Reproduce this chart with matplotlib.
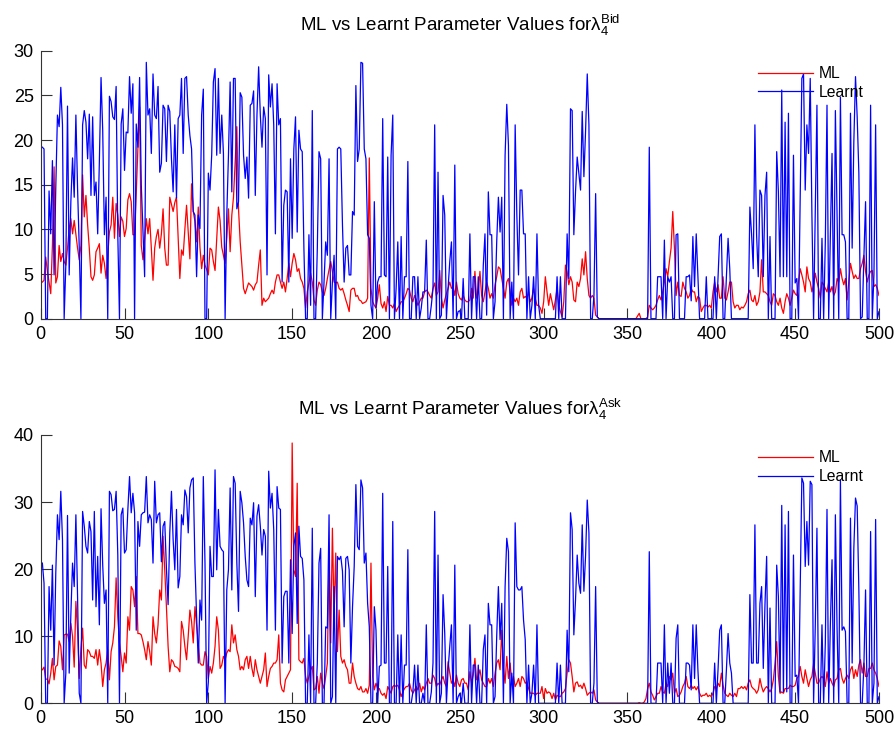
import numpy as np
import matplotlib.pyplot as plt

plt.rcParams['font.family'] = ['Liberation Sans', 'DejaVu Sans']
plt.rcParams['mathtext.fontset'] = 'custom'
plt.rcParams['mathtext.rm'] = 'Liberation Sans'
plt.rcParams['mathtext.it'] = 'Liberation Sans:italic'
plt.rcParams['mathtext.bf'] = 'Liberation Sans:bold'

# values, samples 1..500
bid_ml = [
    4.1, 4.3, 6.9, 5.3, 4.1, 2.8, 8.2, 17, 4, 4.7,
    8.2, 6.4, 7.3, 6.4, 6, 7.9, 10.1, 11.2, 9.5, 11,
    9.4, 7.9, 6.6, 8.2, 16.1, 11.4, 13.8, 10.5, 7.9, 4.7,
    4.3, 4.9, 7.5, 7.9, 8.4, 5.1, 7.1, 6.2, 4.5, 7.1,
    9.7, 10.5, 13.6, 9, 12.9, 11.6, 9.2, 11.4, 10.9, 9.2,
    10.1, 13.3, 14, 13.1, 9.4, 9.4, 14, 19.2, 23.7, 8.2,
    6.6, 9, 11.2, 9.5, 11.2, 7.9, 4.3, 7.9, 9.2, 10,
    7.9, 9.5, 12.3, 7.9, 6, 6, 13.6, 12.8, 12, 13,
    13.6, 9, 4.5, 7.7, 7.1, 10, 12.7, 9.7, 6.7, 15.1,
    12, 10.9, 8.6, 12.5, 8, 5.6, 7.1, 6, 5.5, 4.9,
    7.9, 7.7, 6.4, 5.4, 9, 12.5, 11, 8, 7.1, 6.2,
    9, 12.3, 7.5, 11.6, 13.6, 17.6, 21.5, 12.3, 8.6, 6,
    3.4, 2.8, 3.4, 4, 3.8, 3.6, 3.2, 3.8, 4.1, 6,
    7.7, 1.5, 2.3, 1.9, 2.1, 2.3, 2.8, 3.2, 2.8, 4.1,
    4.9, 4.9, 4.1, 3.4, 4.1, 3, 4.5, 6.2, 4.7, 6.2,
    7.3, 6.6, 5.3, 5.6, 4.5, 4.1, 3.4, 1.2, 3, 4,
    5.1, 4.1, 2.1, 1.5, 3.2, 4.1, 3.8, 3, 2.6, 3.4,
    4.5, 5.5, 6.4, 5.3, 4.1, 4, 4.1, 3.4, 3.2, 3.4,
    2.8, 2.1, 1.5, 0.8, 3.2, 3.4, 3.4, 2.5, 2.6, 2.1,
    2, 1.7, 1.8, 1.9, 2.3, 18, 3.4, 1.9, 1.5, 1.2,
    2.3, 3.8, 1.7, 1.2, 1.9, 0.8, 2.5, 1.5, 1.5, 1.2,
    1.7, 0.8, 1.2, 1.5, 1.9, 1.9, 2.3, 2.8, 3.4, 3.2,
    2.3, 1.9, 2.6, 2.1, 1.5, 1.9, 2.3, 2.3, 3, 3.2,
    3, 2.6, 2.3, 3.4, 4, 2.6, 3, 5.4, 2.3, 1.2,
    2.1, 2.8, 3.4, 4.1, 3.4, 3.6, 2.6, 4.1, 2.8, 2.3,
    2.1, 2.6, 2.1, 1.9, 1.9, 2.1, 3.4, 2.3, 5.3, 2.3,
    3, 5.3, 2.6, 1.9, 3, 4.1, 3.4, 2.3, 2.8, 2.3,
    3.8, 4.7, 5.8, 5.6, 4.5, 3.4, 2.3, 4.1, 4.5, 3,
    1.5, 2.3, 1.9, 2.3, 1.5, 3, 3.4, 2.3, 2.5, 2.3,
    3, 1.9, 2.3, 3.4, 2.3, 1.5, 1.5, 1.2, 0.6, 1.9,
    4.7, 3, 1.5, 2.8, 1.9, 1, 2.1, 3.4, 1.5, 0.8,
    0.2, 1.9, 6, 5.3, 3.8, 4.7, 4.1, 2.1, 1.9, 4.1,
    3.6, 4.5, 6.7, 4.9, 7.5, 4.5, 2.6, 2.3, 2.6, 2.3,
    0.4, 0.2, 0, 0, 0, 0, 0, 0, 0, 0,
    0, 0, 0, 0, 0, 0, 0, 0, 0, 0,
    0, 0, 0, 0, 0, 0.3, 0.6, 0, 0, 0,
    0, 0.2, 1.5, 1.2, 1, 1.2, 1.5, 2.1, 2.6, 2.1,
    3, 4.1, 5.6, 4.7, 6.4, 7.9, 12, 7.9, 2.6, 4.1,
    2.6, 2.5, 4.1, 3.4, 3, 2.3, 2.6, 3.4, 3, 3,
    1.9, 2.5, 2.3, 0.8, 1.2, 1.5, 1.5, 1.3, 1.5, 1.2,
    3, 4.1, 3, 3.8, 2.3, 2.3, 4.7, 2.3, 2.1, 3,
    4.1, 4.1, 1.9, 1.2, 1.5, 1.5, 1, 1.3, 1.2, 1.5,
    1.9, 2.8, 3.2, 2.1, 1.9, 2.6, 1.5, 1.9, 3, 6.6,
    3, 3, 2.8, 2.6, 1.9, 1.5, 2.8, 2.6, 1.9, 1.5,
    2.3, 1.2, 0.6, 1.9, 2.8, 2.3, 1.5, 2.3, 3.2, 2.8,
    2.6, 4.1, 5.6, 4.9, 4.1, 3, 5.8, 4.5, 4.1, 3,
    3.8, 5.1, 4.1, 3.4, 2.3, 4.1, 3.8, 3.4, 3, 4.1,
    3, 3.6, 2.6, 3, 4.5, 4.1, 5.6, 4.5, 3.8, 4.5,
    2.1, 4.1, 6.2, 5.3, 4.5, 4.9, 4.5, 4.5, 5.6, 6.2,
    7.1, 5.3, 4.1, 4.9, 5.3, 5.4, 3.6, 3.8, 3.4, 2.6,
]

bid_learnt = [
    19.2, 19, 0, 0, 14.3, 9.5, 17.7, 4.9, 14.6, 22.8,
    21.5, 25.9, 21.7, 0, 6, 23.8, 4.9, 13.1, 18, 13.6,
    22.8, 14.6, 8, 0, 21.7, 23.3, 22, 17.9, 22.9, 13.8,
    22.6, 13.8, 15.3, 9.5, 17.6, 27, 21.1, 9.4, 13.6, 0,
    24.9, 24.3, 22.6, 22.3, 26, 9.4, 0, 21.8, 23.5, 16.6,
    20.9, 20.8, 27.1, 23, 26.3, 0, 21.8, 19.2, 27, 15,
    10, 4.7, 28.7, 22.8, 23.5, 18.5, 27.4, 22.8, 22.4, 26,
    16.4, 17.4, 23.9, 23.5, 17.6, 23.9, 23.2, 17.9, 14.2, 21.7,
    13.5, 22.4, 22.8, 26.9, 18.5, 26.9, 27.1, 22.8, 20.5, 19,
    12, 11.6, 4.7, 11.6, 10.1, 22.8, 25.7, 0, 0, 16.3,
    14.4, 18.3, 26.5, 28, 18.3, 26.9, 18.5, 22.8, 18.5, 0,
    11.6, 18.3, 26.5, 14.2, 26.9, 26.9, 12.3, 13.1, 25.3, 24.8,
    18.3, 15.7, 18.1, 13.5, 23.9, 24.1, 25.5, 13.8, 22.8, 28.2,
    22.8, 19.2, 23.7, 22.4, 4.9, 27.3, 23.7, 26.3, 21.7, 9.5,
    26.3, 21.7, 22.4, 4.1, 12.7, 14.4, 14.2, 4.1, 17.9, 9,
    19, 22.6, 9.7, 21.1, 19, 18.7, 7.9, 0, 0, 9.4,
    1.5, 23.3, 0, 0, 7.9, 18.7, 17.9, 0, 4.1, 8.6,
    7.1, 17.9, 0, 4.1, 7.1, 0, 19, 19.2, 19, 10.5,
    4.1, 7.9, 8.2, 4.9, 4.9, 12, 11.6, 26.1, 17.6, 19,
    28.7, 28.6, 19, 17.9, 9.4, 9, 1.5, 0, 13.1, 1.2,
    4.1, 4.7, 4.7, 22.4, 4.9, 4.7, 18.1, 0, 18.3, 22.8,
    0, 3.4, 8.6, 0, 9.2, 0, 4.7, 4.7, 17.6, 0,
    0, 4.7, 4.7, 0, 4.7, 0, 1.2, 3, 3, 8.8,
    0, 0, 1.5, 3.4, 21.7, 0, 16.4, 0, 0.4, 13.8,
    11.6, 0, 3.4, 6.4, 8.6, 0, 17.2, 0, 0.8, 0.9,
    0, 4.5, 0, 0, 0, 9.5, 0, 4.7, 4.7, 0,
    4.7, 0, 0, 6, 9.5, 0.4, 14.2, 9.4, 9.4, 0,
    1.9, 8.6, 13.6, 9.7, 13.6, 0, 18.3, 24, 19.4, 0,
    4.1, 0, 21.7, 11.6, 4.9, 14.4, 14.4, 9.5, 9.5, 0,
    4.7, 0, 1.5, 4.7, 0, 9.5, 1.5, 0, 0, 0,
    0, 0, 0, 0, 0, 0, 0, 4.7, 0, 4.7,
    0, 0, 0, 9.5, 4.5, 23.5, 23.3, 9.4, 14.2, 18.1,
    16.3, 14.4, 23.2, 15.9, 21, 27.4, 21.7, 0, 0, 2.6,
    14, 0.2, 0, 0, 0, 0, 0, 0, 0, 0,
    0, 0, 0, 0, 0, 0, 0, 0, 0, 0,
    0, 0, 0, 0, 0, 0, 0, 0, 0, 0,
    0, 0, 19.2, 0, 0, 0, 0, 4.7, 4.7, 4.7,
    0, 8.8, 0, 4.7, 4.1, 4.7, 0, 0, 9.4, 9.5,
    0, 0, 0, 0, 4.7, 4.7, 4.9, 2, 9.2, 3.6,
    9.5, 4.7, 0, 0, 0, 0, 4.7, 0, 0, 0,
    0, 4.7, 0, 4.7, 9.2, 9.5, 0, 0, 4.7, 9,
    5.6, 0, 0, 0, 0, 0, 0, 0, 0, 0,
    0, 0, 12.5, 9.5, 5.6, 21.7, 9.4, 4.7, 14.4, 13.8,
    4.7, 13.8, 16.4, 0, 9.2, 0, 0, 0, 18.7, 14.2,
    4.7, 25.6, 4.7, 22, 4.7, 23, 0, 0, 18.3, 4,
    4.5, 0, 13.1, 26.9, 27.4, 14.4, 21.7, 18.5, 26.9, 11.6,
    0, 11.6, 23.9, 0, 0, 9, 0, 8.6, 23.9, 0,
    9.5, 18.5, 0, 23.3, 11.6, 0, 24.8, 9.4, 9.4, 8.6,
    0, 0, 23, 7.9, 19.8, 27.1, 22.6, 16.3, 0, 0.2,
    6.9, 13.1, 0, 0, 23.9, 0, 4.9, 21.7, 0, 0.8,
]

ask_ml = [
    5, 5.4, 3.6, 3.6, 2.9, 4.5, 6.7, 3.5, 5.5, 5.7,
    9.3, 8.5, 5, 10.2, 10.3, 10.3, 9.2, 11.9, 10, 5.4,
    15.2, 10.9, 3.7, 8.2, 11.2, 5.7, 5.2, 8, 7.7, 7,
    7, 6.7, 8, 5.7, 8, 6, 2.5, 5, 6, 8,
    3.5, 7.7, 9, 11.4, 18.7, 12.9, 9, 7, 4.7, 7.5,
    6, 12.9, 10.9, 17.4, 16.9, 14.4, 18.9, 10.4, 10.4, 10.2,
    9.2, 8, 6.5, 9.2, 7.7, 5.7, 12.9, 10.4, 9, 11.7,
    16.9, 15.4, 24.9, 19.9, 14.4, 8.5, 4.7, 6.5, 6.2, 5.5,
    5.4, 5.2, 4.7, 12.2, 10.9, 8.5, 6.5, 10, 13.9, 12.2,
    9, 14.4, 11.7, 9, 6, 5.7, 5.7, 7.7, 7, 3.7,
    5.5, 4.5, 6, 8.5, 12.9, 10.9, 5.2, 5.7, 7, 6.5,
    7.5, 8, 7.7, 11.7, 9, 10.2, 8, 7, 5, 5.5,
    5, 6.5, 7, 5.2, 7, 5.2, 4, 6.5, 5, 4,
    3, 4, 5, 7.5, 2.5, 4, 5.2, 5.5, 6, 6,
    6.5, 10.2, 3, 2, 1.7, 3.5, 4, 4.5, 5, 38.8,
    19.9, 18.9, 32.8, 6.5, 6.2, 6, 6.7, 4, 3, 4,
    5, 5.5, 2, 2.2, 4, 1.5, 4.5, 3, 2.2, 4,
    6, 22.6, 9, 26.1, 12.9, 22.4, 7.7, 13.9, 7, 6,
    6.5, 5.5, 5, 3, 3, 6, 4, 3, 2.2, 2,
    2.5, 1.7, 1.7, 2.2, 1.5, 2.7, 20.9, 4, 2, 3,
    2.2, 2.2, 1.5, 1.2, 1.5, 0.7, 2.5, 2, 1.5, 2.5,
    2.7, 2.5, 2.7, 2, 1, 1.7, 2.2, 2.5, 2.5, 3,
    2, 1.5, 2, 2.5, 2, 3, 1.7, 2.5, 2, 3,
    3.7, 3, 3, 4.2, 3.7, 2.5, 3, 2.7, 3.5, 4,
    3, 2.5, 6.2, 4.5, 3, 3.5, 2.5, 4.2, 3, 2.5,
    3.5, 3.7, 3, 3, 2, 4.7, 3, 4.2, 6.7, 3.5,
    4, 5, 3.5, 3, 2.5, 2.5, 3.7, 3, 3.7, 2.5,
    4.5, 6, 6.5, 5, 10.9, 5.2, 3, 7, 3.7, 6,
    3, 4, 2.5, 3, 3.7, 2.5, 4, 3.7, 3, 3.2,
    2.2, 1.5, 1.5, 1.5, 1.2, 1.5, 1.5, 1.5, 2.5, 0.7,
    2.2, 1.5, 1.7, 1.5, 0.7, 1.5, 0.5, 1.2, 1, 1,
    1.5, 1.7, 2.2, 4.5, 6.5, 6, 4, 1.7, 3, 3.2,
    2.5, 2.7, 2.2, 3, 2.2, 1.2, 1.5, 1.7, 1.5, 2,
    0.5, 0.2, 0, 0, 0, 0, 0, 0, 0, 0,
    0, 0, 0, 0, 0, 0, 0, 0, 0, 0,
    0, 0, 0, 0, 0, 0, 0.1, 0, 0, 0.2,
    0.7, 2.2, 3, 1.7, 1.2, 0.5, 1, 1.5, 1.5, 2.5,
    1.7, 1.5, 3, 2.5, 4, 3.5, 4.5, 1.5, 2.2, 1,
    1.2, 1.7, 2.5, 3, 4, 2.5, 2.2, 2.7, 2.2, 2.5,
    2, 2.5, 1.5, 1, 1.2, 1.2, 1.5, 1, 1.2, 1,
    1.5, 2.5, 2.2, 3, 2.5, 4.5, 2.7, 1.5, 1.2, 1,
    1.5, 1.2, 1, 1.5, 1, 2.2, 2.2, 2.5, 2.2, 2.5,
    2, 3, 3.5, 2.5, 2.2, 2, 1.5, 2, 3.7, 2.5,
    1.7, 2.2, 2.5, 2.2, 1.7, 2.2, 3.5, 6, 9.2, 4,
    1.5, 1.7, 1.5, 2.2, 2.2, 2.2, 2.7, 2.5, 2.5, 2.7,
    3.7, 4, 5.5, 4, 3, 5, 3.7, 2.5, 3.5, 4,
    6, 4.5, 3, 3, 3.7, 4, 3.7, 2.5, 4.7, 3,
    3.7, 3, 2.5, 3.5, 3.7, 5, 5.2, 3.7, 3, 3.7,
    4.2, 3.7, 5, 5.5, 3.7, 5, 4, 5.7, 6.5, 4.5,
    6, 4, 4, 5.2, 5.2, 6, 5, 4.5, 3.7, 2.5,
]

ask_learnt = [
    20.9, 17.9, 0, 0, 17.4, 10.9, 20.6, 5.7, 19.4, 28.1,
    24.4, 31.6, 24.4, 0, 4.5, 28, 4.5, 13.2, 20.9, 17.4,
    28.1, 15.9, 1.5, 0, 28.6, 26.4, 23.4, 22.4, 27.1, 25.6,
    15.4, 28.6, 14.4, 21.9, 11.7, 29, 20.6, 14.9, 16.9, 0,
    31.6, 31.1, 28.7, 28.9, 31.6, 22.1, 0, 28.1, 29.1, 22.4,
    22.9, 28.9, 33.8, 28.4, 31.3, 28.4, 10.9, 27.1, 23.4, 28.1,
    28.4, 28.5, 33.8, 26.9, 28.1, 27.4, 20.9, 33.1, 26.9, 28.1,
    28.4, 21.1, 26.4, 27.1, 20.1, 14.7, 25.4, 31.6, 24.4, 19.9,
    28.9, 17.2, 18.9, 28.1, 26.6, 31.8, 30.8, 25.4, 32.1, 33.3,
    33.6, 20.9, 12.9, 6, 15.4, 12.4, 33.8, 20.9, 0, 3.2,
    23.4, 18.9, 18.9, 34.8, 19.9, 28.9, 23.4, 22.9, 22.6, 0,
    16.9, 19.9, 32.1, 16.9, 33.8, 32.8, 20.9, 13.7, 31.6, 29.9,
    26.9, 21.9, 18.4, 17.4, 27.6, 26.6, 29.9, 15.9, 27.9, 29.6,
    26.4, 22.1, 25.9, 24.9, 10.9, 34.6, 29.1, 31.3, 25.9, 10.9,
    32.3, 29.1, 28.9, 6, 15.9, 16.7, 16.7, 6, 21.4, 10.4,
    23.4, 25.4, 11.9, 26.4, 21.9, 21.6, 18.4, 0, 0, 10.2,
    0, 26.1, 0, 0, 6, 20.9, 23.1, 0, 0, 11.4,
    11.2, 28.1, 0, 1, 17.4, 0, 21.9, 21.4, 21.9, 19.7,
    11.4, 21.6, 21.9, 19.9, 6, 14.4, 20.4, 32.6, 23.4, 22.9,
    33.3, 32.1, 20.9, 22.4, 14.9, 11.4, 0, 0, 14.4, 10.9,
    0, 5.5, 5.7, 31.3, 6, 6, 20.4, 0, 0, 27.1,
    0, 0, 10.2, 0, 10.2, 0, 5.7, 5.7, 22.9, 0,
    0, 1.7, 5.7, 0, 5.7, 0, 0, 1.5, 0, 11.7,
    0, 0, 1.7, 6, 28.6, 0, 22.1, 0, 1.5, 16.2,
    10.4, 0, 5, 8.5, 11.7, 0, 20.6, 0, 1, 1.5,
    0, 3, 0, 0, 0, 11.7, 0, 5.7, 5.7, 0,
    5.7, 0, 0, 8, 10.2, 0, 14.9, 11.7, 11.7, 0,
    1, 10, 17.4, 9.5, 14.9, 0, 17.4, 24.6, 22.6, 0,
    4.5, 0, 26.9, 17.4, 16.9, 16.9, 17.4, 12.4, 9.5, 0,
    5.7, 0, 1.5, 5.7, 0, 11.7, 0, 0, 0, 0,
    0, 0, 0, 0, 0, 0, 0, 6, 0, 5.7,
    0, 0, 0, 10.9, 4.7, 28.4, 25.9, 10.2, 15.4, 22.1,
    17.9, 16.4, 26.6, 16.7, 22, 30.3, 25.4, 0, 0, 3,
    17.4, 0.2, 0, 0, 0, 0, 0, 0, 0, 0,
    0, 0, 0, 0, 0, 0, 0, 0, 0, 0,
    0, 0, 0, 0, 0, 0, 0, 0, 0, 0,
    0, 0, 22.6, 0, 0, 0, 0, 6, 6, 6,
    0, 11.7, 0, 6, 1.5, 6, 0, 0, 9.7, 11.7,
    0, 0, 0, 0, 6, 6, 5.7, 2, 11.7, 3.7,
    11.7, 5, 0, 0, 0, 0, 0, 0, 0, 0,
    0, 6, 0, 5, 10.9, 11.7, 0, 0, 5, 10.4,
    6, 4.5, 0, 0, 0, 0, 0, 0, 0, 0,
    0, 0, 16.2, 6, 6, 26.6, 6, 6, 14.9, 17.4,
    5.2, 14.7, 21.9, 0, 14.2, 0, 0, 0, 20.6, 15.9,
    1.7, 29.5, 1.7, 26.6, 1.7, 28.6, 0, 0, 22.1, 4,
    4.2, 0, 16.4, 33.6, 32.8, 20.4, 27.1, 20.6, 33.1, 32.6,
    0, 11.4, 26.1, 0, 0, 11.7, 0, 9, 28.9, 0,
    11.7, 21.4, 0, 28.1, 11.2, 0, 33.3, 10.9, 11.4, 10.7,
    0, 0, 27.6, 6, 23.1, 30.6, 29.4, 16.9, 0, 0,
    5.5, 16.9, 0, 0, 25.6, 0, 3, 27.4, 0, 1,
]

fig = plt.figure(figsize=(8.96, 7.33), dpi=100)
ax_bid = fig.add_axes([0.0454, 0.5652, 0.9356, 0.3656])
ax_ask = fig.add_axes([0.0454, 0.0405, 0.9356, 0.3661])


def draw(ax, ml, learnt, ymax, ystep, side):
    x = np.arange(1, len(ml) + 1)
    ax.plot(x, ml, color='#ff0000', lw=0.9, label='ML')
    ax.plot(x, learnt, color='#0000ff', lw=0.9, label='Learnt')
    ax.set_xlim(0, 500)
    ax.set_ylim(0, ymax)
    ax.set_xticks(np.arange(0, 501, 50))
    ax.set_yticks(np.arange(0, ymax + 1, ystep))
    for s in ['top', 'right']:
        ax.spines[s].set_visible(False)
    for s in ['left', 'bottom']:
        ax.spines[s].set_color('0.2')
        ax.spines[s].set_linewidth(0.8)
    ax.tick_params(direction='in', length=8, width=0.8, color='0.2',
                   labelsize=13, pad=5)
    ax.set_title(r'ML vs Learnt Parameter Values for$\mathrm{\lambda}_4^{\mathrm{%s}}$' % side,
                 fontsize=13.5, pad=14.5)
    ax.legend(loc='upper left', bbox_to_anchor=(0.856, 0.943), frameon=False,
              handlelength=3.5, handletextpad=0.38, borderpad=0, borderaxespad=0,
              labelspacing=0.24, fontsize=11.3)


draw(ax_bid, bid_ml, bid_learnt, 30, 5, 'Bid')
draw(ax_ask, ask_ml, ask_learnt, 40, 10, 'Ask')

fig.savefig('out.png', dpi=100)
